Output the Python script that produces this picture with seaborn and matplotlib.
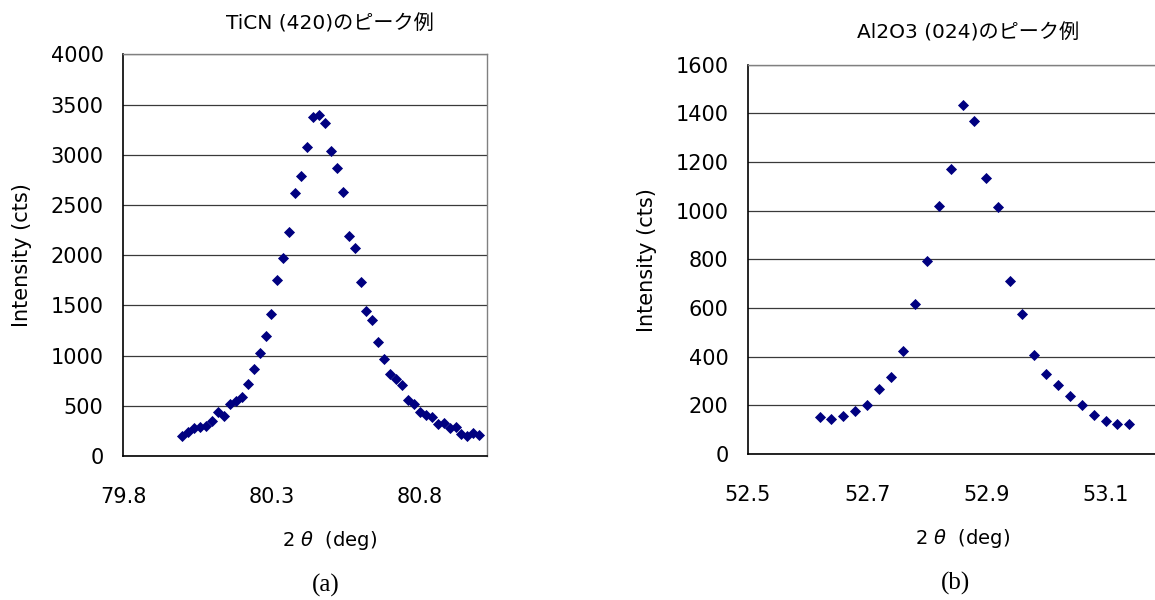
import matplotlib
matplotlib.use("Agg")
import matplotlib.pyplot as plt
import pandas as pd
import seaborn as sns

# TiCN (420) peak
ticn_2theta = [80.00, 80.02, 80.04, 80.06, 80.08, 80.10, 80.12, 80.14, 80.16, 80.18,
               80.20, 80.22, 80.24, 80.26, 80.28, 80.30, 80.32, 80.34, 80.36, 80.38,
               80.40, 80.42, 80.44, 80.46, 80.48, 80.50, 80.52, 80.54, 80.56, 80.58,
               80.60, 80.62, 80.64, 80.66, 80.68, 80.70, 80.72, 80.74, 80.76, 80.78,
               80.80, 80.82, 80.84, 80.86, 80.88, 80.90, 80.92, 80.94, 80.96, 80.98,
               81.00]
ticn_counts = [202, 236, 276, 286, 302, 352, 435, 402, 515, 551,
               591, 714, 867, 1023, 1195, 1411, 1750, 1969, 2231, 2623,
               2789, 3081, 3376, 3396, 3314, 3041, 2868, 2629, 2191, 2068,
               1730, 1444, 1355, 1132, 969, 817, 767, 704, 558, 521,
               441, 408, 392, 316, 326, 282, 292, 219, 202, 226,
               209]

# Al2O3 (024) peak
al2o3_2theta = [52.62, 52.64, 52.66, 52.68, 52.70, 52.72, 52.74, 52.76, 52.78, 52.80,
                52.82, 52.84, 52.86, 52.88, 52.90, 52.92, 52.94, 52.96, 52.98, 53.00,
                53.02, 53.04, 53.06, 53.08, 53.10, 53.12, 53.14]
al2o3_counts = [151, 145, 155, 177, 200, 268, 315, 424, 615, 793,
                1021, 1169, 1433, 1370, 1136, 1013, 710, 576, 405, 327,
                282, 240, 201, 159, 136, 122, 124]

ticn_xticks = [79.8, 80.3, 80.8]
ticn_yticks = [0, 500, 1000, 1500, 2000, 2500, 3000, 3500, 4000]
al2o3_xticks = [52.5, 52.7, 52.9, 53.1]
al2o3_yticks = [0, 200, 400, 600, 800, 1000, 1200, 1400, 1600]

sns.set_style("white")
plt.rcParams['font.family'] = ['DejaVu Sans', 'Noto Sans CJK JP']
plt.rcParams['text.color'] = 'black'
plt.rcParams['xtick.color'] = 'black'
plt.rcParams['ytick.color'] = 'black'

W, H = 1155, 600
fig = plt.figure(figsize=(W / 100, H / 100), dpi=100)


def px_axes(x0, y0, x1, y1):
    return fig.add_axes([x0 / W, 1 - y1 / H, (x1 - x0) / W, (y1 - y0) / H])


def style_axes(ax, xticks, yticks, xlim, ylim):
    ax.set_xlim(*xlim)
    ax.set_ylim(*ylim)
    ax.set_xticks(xticks)
    ax.set_yticks(yticks)
    ax.set_xticklabels([f"{t:.1f}" for t in xticks])
    ax.set_yticklabels([str(t) for t in yticks])
    ax.grid(axis='y', color='#3a3a3a', linewidth=0.9)
    ax.grid(axis='x', visible=False)
    ax.set_axisbelow(True)
    for s in ['left', 'bottom']:
        ax.spines[s].set_color('black')
        ax.spines[s].set_linewidth(1.2)
    for s in ['top', 'right']:
        ax.spines[s].set_color('#808080')
        ax.spines[s].set_linewidth(1.0)
    ax.tick_params(axis='x', direction='in', length=5, width=1, colors='black',
                   labelsize=15, pad=22)
    ax.tick_params(axis='y', direction='in', length=5, width=1, colors='black',
                   labelsize=15, pad=14)
    ax.set_xlabel('')
    ax.set_ylabel('')


ax1 = px_axes(123, 54.4, 486.7, 456)
df1 = pd.DataFrame({'two_theta': ticn_2theta, 'counts': ticn_counts})
sns.scatterplot(data=df1, x='two_theta', y='counts', ax=ax1, marker='D',
                color='#000080', s=32, linewidth=0, zorder=3)
style_axes(ax1, ticn_xticks, ticn_yticks, (79.8, 81.025), (0, 4000))

ax2 = px_axes(748, 64.6, 1155, 454)
df2 = pd.DataFrame({'two_theta': al2o3_2theta, 'counts': al2o3_counts})
sns.scatterplot(data=df2, x='two_theta', y='counts', ax=ax2, marker='D',
                color='#000080', s=32, linewidth=0, zorder=3)
style_axes(ax2, al2o3_xticks, al2o3_yticks, (52.5, 53.183), (0, 1600))
ax2.spines['right'].set_visible(False)

# titles, axis labels, panel captions
fig.text(330 / W, 1 - 24 / H, 'TiCN (420)のピーク例', ha='center', va='center', fontsize=14.5)
fig.text(968 / W, 1 - 33 / H, 'Al2O3 (024)のピーク例', ha='center', va='center', fontsize=14.5)

fig.text(21.7 / W, 1 - 255 / H, 'Intensity (cts)', rotation=90, ha='center', va='center', fontsize=15)
fig.text(646.7 / W, 1 - 260 / H, 'Intensity (cts)', rotation=90, ha='center', va='center', fontsize=15)

fig.text(330 / W, 1 - 541 / H, '2 $\\theta$  (deg)', ha='center', va='center', fontsize=14)
fig.text(963 / W, 1 - 539 / H, '2 $\\theta$  (deg)', ha='center', va='center', fontsize=14)

fig.text(326 / W, 1 - 585 / H, '(a)', ha='center', va='center', fontsize=18, family='Liberation Serif')
fig.text(955 / W, 1 - 583 / H, '(b)', ha='center', va='center', fontsize=18, family='Liberation Serif')

fig.savefig('out.png', dpi=100)
